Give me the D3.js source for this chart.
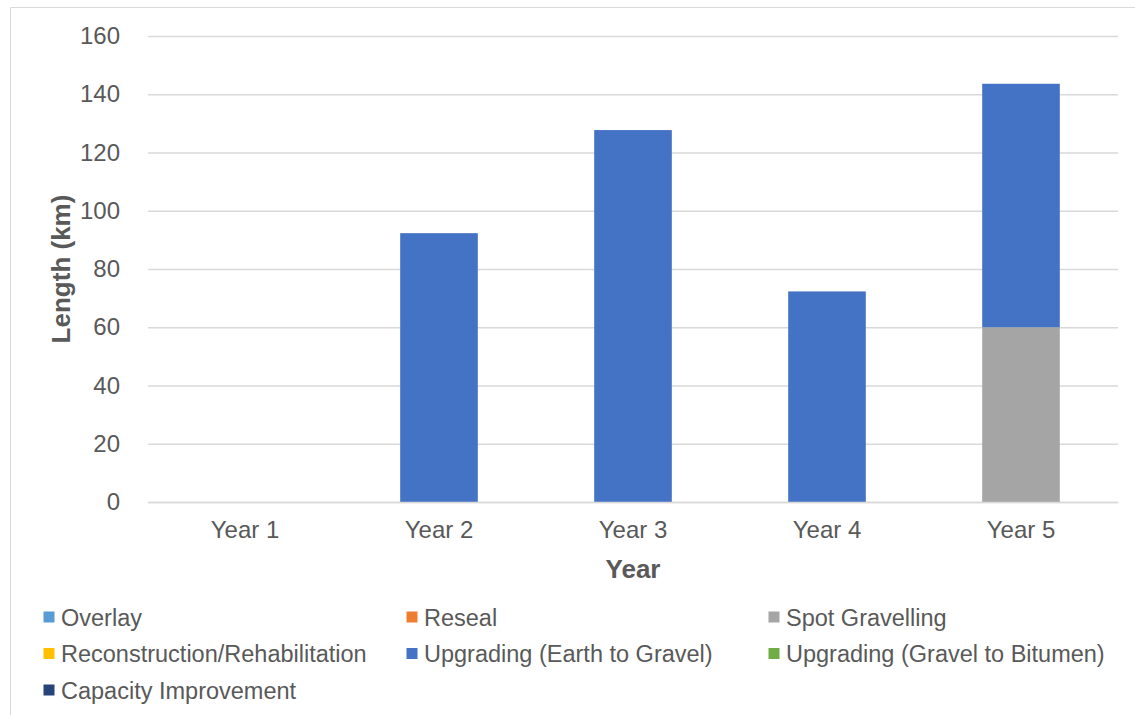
<!DOCTYPE html>
<html>
<head>
<meta charset="utf-8">
<script src="https://cdn.jsdelivr.net/npm/d3@7"></script>
<style>
  html, body { margin: 0; padding: 0; background: #fff; }
  svg { display: block; font-family: "Liberation Sans", Arial, sans-serif; }
</style>
</head>
<body>
<svg id="chart" width="1135" height="715"></svg>
<script>
// Road works length by year, stacked by treatment type
const years = ["Year 1", "Year 2", "Year 3", "Year 4", "Year 5"];
const seriesNames = [
  "Overlay",
  "Reseal",
  "Spot Gravelling",
  "Reconstruction/Rehabilitation",
  "Upgrading (Earth to Gravel)",
  "Upgrading (Gravel to Bitumen)",
  "Capacity Improvement"
];
const overlay = [0, 0, 0, 0, 0];
const reseal = [0, 0, 0, 0, 0];
const spotGravelling = [0, 0, 0, 0, 60];
const reconstruction = [0, 0, 0, 0, 0];
const upgradingEarthGravel = [0, 92.3, 127.7, 72.3, 83.6];
const upgradingGravelBitumen = [0, 0, 0, 0, 0];
const capacityImprovement = [0, 0, 0, 0, 0];
const seriesColors = ["#5B9BD5", "#ED7D31", "#A5A5A5", "#FFC000", "#4472C4", "#70AD47", "#264478"];
const yTicks = [0, 20, 40, 60, 80, 100, 120, 140, 160];

const seriesValues = [overlay, reseal, spotGravelling, reconstruction,
  upgradingEarthGravel, upgradingGravelBitumen, capacityImprovement];

const rows = years.map((y, i) => {
  const r = { year: y };
  seriesNames.forEach((s, k) => { r[s] = seriesValues[k][i]; });
  return r;
});

const svg = d3.select("#chart");
const margin = { left: 148, right: 17, top: 36, bottom: 213 };
const W = 1135, H = 715;
const plotW = W - margin.left - margin.right;
const plotH = H - margin.top - margin.bottom;
const textColor = "#595959";

// outer frame (top and left edges visible)
svg.append("path")
  .attr("d", `M10.5,${H} V7.5 H${W}`)
  .attr("fill", "none").attr("stroke", "#d9d9d9").attr("stroke-width", 1);

const g = svg.append("g").attr("transform", `translate(${margin.left},${margin.top})`);

const x = d3.scaleBand().domain(years).range([0, plotW]).paddingInner(0.6).paddingOuter(0.3);
const y = d3.scaleLinear().domain([0, 160]).range([plotH, 0]);

// gridlines + y tick labels
const yAxis = d3.axisLeft(y).tickValues(yTicks).tickSize(-plotW).tickPadding(28);
const ya = g.append("g").call(yAxis);
ya.select(".domain").remove();
ya.selectAll(".tick line").attr("stroke", "#d9d9d9").attr("stroke-width", 1.3);
ya.selectAll(".tick text").attr("fill", textColor).attr("font-size", 24)
  .attr("font-family", "Liberation Sans, Arial, sans-serif");

// stacked bars
const stack = d3.stack().keys(seriesNames);
const layers = stack(rows);
g.append("g").selectAll("g").data(layers).join("g")
  .attr("fill", (d, i) => seriesColors[i])
  .selectAll("rect").data(d => d).join("rect")
  .attr("x", d => x(d.data.year))
  .attr("width", x.bandwidth())
  .attr("y", d => y(d[1]))
  .attr("height", d => y(d[0]) - y(d[1]));

// x axis
const xa = g.append("g").attr("transform", `translate(0,${plotH})`)
  .call(d3.axisBottom(x).tickSize(0).tickPadding(19));
xa.select(".domain").attr("stroke", "#d9d9d9").attr("stroke-width", 1.5);
xa.selectAll(".tick text").attr("fill", textColor).attr("font-size", 24)
  .attr("font-family", "Liberation Sans, Arial, sans-serif");

// axis titles
svg.append("text")
  .attr("x", margin.left + plotW / 2).attr("y", 578)
  .attr("text-anchor", "middle").attr("font-size", 26).attr("font-weight", "bold")
  .attr("fill", textColor).text("Year");

svg.append("text")
  .attr("transform", `translate(70,${margin.top + plotH / 2}) rotate(-90)`)
  .attr("text-anchor", "middle").attr("font-size", 26).attr("font-weight", "bold")
  .attr("fill", textColor).text("Length (km)");

// legend, three columns
const colX = [43.5, 406.5, 768.5];
const rowY = [617, 653.5, 690];
const legend = svg.append("g").selectAll("g").data(seriesNames).join("g")
  .attr("transform", (d, i) => `translate(${colX[i % 3]},${rowY[Math.floor(i / 3)]})`);
legend.append("rect").attr("x", 0).attr("y", -5.5).attr("width", 11).attr("height", 11)
  .attr("fill", (d, i) => seriesColors[i]);
legend.append("text").attr("x", 17.5).attr("y", 8.5).attr("font-size", 23.5)
  .attr("fill", textColor).text(d => d);
</script>
</body>
</html>
